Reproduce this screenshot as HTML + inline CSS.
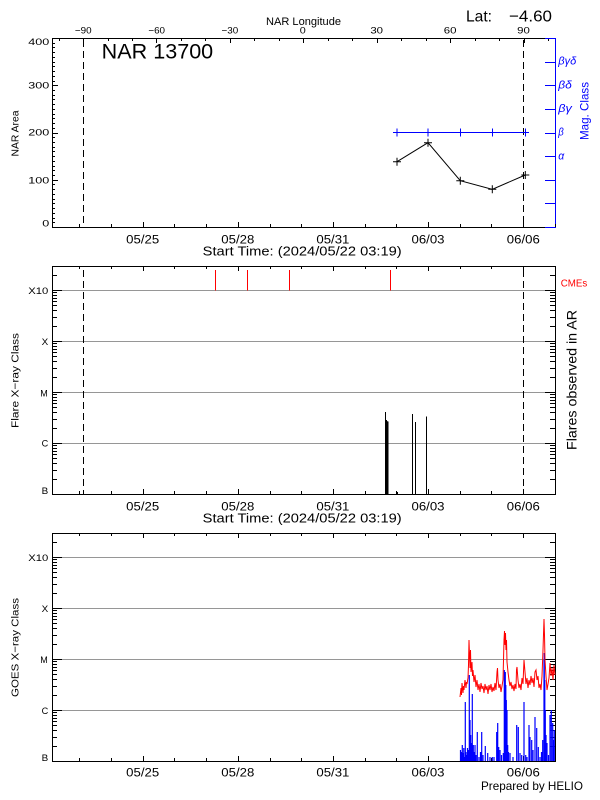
<!DOCTYPE html>
<html><head><meta charset="utf-8"><style>
html,body{margin:0;padding:0;background:#fff;}
svg{display:block;}
text{font-family:"Liberation Sans",sans-serif;fill:#000;}
text.blue{fill:#0000ff;}
text.red{fill:#ff0000;}
</style></head><body>
<svg id="s" width="600" height="800" viewBox="0 0 600 800" xmlns="http://www.w3.org/2000/svg">
<rect width="600" height="800" fill="#fff"/>

<!-- grid lines -->
<g stroke="#969696" stroke-width="1" shape-rendering="crispEdges">
<line x1="52" y1="290.5" x2="555" y2="290.5"/>
<line x1="52" y1="341.5" x2="555" y2="341.5"/>
<line x1="52" y1="392.5" x2="555" y2="392.5"/>
<line x1="52" y1="443.5" x2="555" y2="443.5"/>
<line x1="52" y1="557.5" x2="555" y2="557.5"/>
<line x1="52" y1="608.5" x2="555" y2="608.5"/>
<line x1="52" y1="659.5" x2="555" y2="659.5"/>
<line x1="52" y1="710.5" x2="555" y2="710.5"/>
</g>

<!-- frames -->
<g stroke="#000" stroke-width="1" fill="none" shape-rendering="crispEdges">
<line x1="52.5" y1="38.5" x2="555" y2="38.5"/>
<line x1="52.5" y1="38.5" x2="52.5" y2="227.5"/>
<line x1="52.5" y1="227.5" x2="555" y2="227.5"/>
<rect x="52.5" y="266.5" width="503" height="228"/>
<rect x="52.5" y="533.5" width="503" height="228"/>
</g>
<line x1="555.5" y1="38" x2="555.5" y2="228" stroke="#0000ff" stroke-width="1" shape-rendering="crispEdges"/>

<g id="ticks" stroke="#000" stroke-width="1" shape-rendering="crispEdges"></g>
<g id="bticks" stroke="#0000ff" stroke-width="1" shape-rendering="crispEdges"></g>

<!-- dashed lines -->
<g stroke="#000" stroke-width="1.2" stroke-dasharray="7,4" shape-rendering="crispEdges">
<line x1="83.5" y1="40" x2="83.5" y2="227"/>
<line x1="523.5" y1="40" x2="523.5" y2="227"/>
<line x1="83.5" y1="270" x2="83.5" y2="494"/>
<line x1="523.5" y1="270" x2="523.5" y2="494"/>
</g>

<!-- top panel data -->
<g stroke="#0000ff" stroke-width="1" fill="none" shape-rendering="crispEdges">
<line x1="393" y1="132.5" x2="529" y2="132.5"/>
<line x1="397" y1="128.5" x2="397" y2="136.5"/>
<line x1="428" y1="128.5" x2="428" y2="136.5"/>
<line x1="460.3" y1="128.5" x2="460.3" y2="136.5"/>
<line x1="492.3" y1="128.5" x2="492.3" y2="136.5"/>
<line x1="525.3" y1="128.5" x2="525.3" y2="136.5"/>
</g>
<g stroke="#000" stroke-width="1" fill="none">
<polyline points="397,161.7 428,142.7 460.3,180.7 492.3,189.3 525.3,175"/>
<path d="M393,161.7h8M397,157.7v8M424,142.7h8M428,138.7v8M456.3,180.7h8M460.3,176.7v8M488.3,189.3h8M492.3,185.3v8M521.3,175h8M525.3,171v8"/>
</g>

<!-- CMEs -->
<g stroke="#ff0000" stroke-width="1" shape-rendering="crispEdges">
<line x1="215.7" y1="270" x2="215.7" y2="290.5"/>
<line x1="247.3" y1="270" x2="247.3" y2="290.5"/>
<line x1="289.3" y1="270" x2="289.3" y2="290.5"/>
<line x1="390.3" y1="270" x2="390.3" y2="290.5"/>
</g>

<!-- flares -->
<g stroke="#000" stroke-width="1" shape-rendering="crispEdges">
<line x1="385.5" y1="494" x2="385.5" y2="412"/>
<line x1="386.3" y1="494" x2="386.3" y2="420"/>
<line x1="387" y1="494" x2="387" y2="421"/>
<line x1="387.8" y1="494" x2="387.8" y2="421.7"/>
<line x1="397.3" y1="494" x2="397.3" y2="492"/>
<line x1="412.3" y1="494" x2="412.3" y2="414"/>
<line x1="415.3" y1="494" x2="415.3" y2="422"/>
<line x1="426.3" y1="494" x2="426.3" y2="416.7"/>
<line x1="428.3" y1="494" x2="428.3" y2="489"/>
</g>

<!-- GOES blue -->
<path fill="none" stroke="#0000ff" stroke-width="1.2" d="
M460.5,761V750 M461.5,761V752 M462.3,761V745 M463,761V753 M463.8,761V748 M464.5,761V757 M465.3,761V702 M466,761V752 M466.8,761V755 M467.5,761V748 M468.3,761V750 M469.3,761V675 M470,761V720 M470.7,761V735 M471.3,761V743 M472.3,761V694 M473.3,761V745 M474.2,761V752 M475,761V745 M476,761V755 M477.3,761V732 M479,761V757 M480.5,761V752 M481.7,761V732 M483,761V755 M485.3,761V746 M487.7,761V753 M490,761V757 M492.3,761V757 M494,761V757 M496.7,761V732 M497.7,761V723 M498.7,761V747 M500,761V750 M501.5,761V755 M503.3,761V753 M504.3,761V670 M504.8,761V690 M505.3,761V672 M505.8,761V685 M506.3,761V700 M507,761V710 M507.7,761V745 M508.5,761V752 M510,761V753 M513,761V757 M516.7,761V725 M518.3,761V727 M520,761V753 M521.7,761V755 M524,761V702 M525.7,761V755 M527,761V757 M529,761V725 M530,761V737 M531.7,761V740 M533,761V750 M535,761V717 M536.7,761V728 M538.3,761V747 M540,761V757 M541.5,761V752 M542.7,761V740 M544,761V660 M544.3,761V653 M544.8,761V680 M545.3,761V710 M546,761V735 M547,761V743 M548.5,761V755 M550,761V715 M551.3,761V710 M552.7,761V723 M553.5,761V740 M554.3,761V730"/>

<!-- GOES red -->
<polyline fill="none" stroke="#ff0000" stroke-width="1" points="460,697 461,688 461.5,695 462,683 463,693 463.5,686 464,690 465,680 466,688 466.5,682 467,684 468,678 468.5,665 469,640 469.5,655 470,668 470.5,650 471,672 472,662 472.5,676 473,670 474,682 475,675 476,687 477,680 478,690 479,684 480,692 481,683 482,689 483,686 484,693 485,684 486,690 487,686 488,694 489,685 490,690 491,684 492,692 493,687 494,691 495,683 496,690 497,672 497.5,668 498,680 499,688 500,684 501,692 502,686 503,680 503.5,660 504,640 504.5,631 505,645 505.5,633 506,650 506.5,640 507,662 508,672 509,680 510,686 511,682 512,689 513,685 514,691 515,684 516,689 516.5,670 517,667 518,680 519,688 520,684 521,690 522,678 523,684 524,660 525,672 526,684 527,678 528,688 529,680 530,685 531,676 532,683 533,678 534,687 535,672 536,670 537,680 538,676 539,688 540,684 541,690 542,676 543,650 544,619 544.5,635 545,660 546,676 547,690 548,684 549,678 550,663 551,676 552,668 553,680 554,665 555,675"/>

<!-- Top texts -->
<text x="266" y="25" font-size="11" textLength="75" lengthAdjust="spacingAndGlyphs">NAR Longitude</text>
<text x="466" y="21.7" font-size="16" textLength="26" lengthAdjust="spacingAndGlyphs">Lat:</text>
<text x="509" y="21.7" font-size="16" textLength="43" lengthAdjust="spacingAndGlyphs">−4.60</text>
<g font-size="9.5" text-anchor="middle">
<text x="83.3" y="33.5" textLength="16.7" lengthAdjust="spacingAndGlyphs">−90</text>
<text x="156.7" y="33.5" textLength="16.7" lengthAdjust="spacingAndGlyphs">−60</text>
<text x="229.9" y="33.5" textLength="16.7" lengthAdjust="spacingAndGlyphs">−30</text>
<text x="302.8" y="33.5" textLength="6" lengthAdjust="spacingAndGlyphs">0</text>
<text x="376.7" y="33.5" textLength="12.7" lengthAdjust="spacingAndGlyphs">30</text>
<text x="450.1" y="33.5" textLength="12.7" lengthAdjust="spacingAndGlyphs">60</text>
<text x="523.5" y="33.5" textLength="12.7" lengthAdjust="spacingAndGlyphs">90</text>
</g>
<text x="101.7" y="58.3" font-size="21" textLength="111.5" lengthAdjust="spacingAndGlyphs">NAR 13700</text>

<!-- top panel y labels -->
<g font-size="9.5">
<text x="28.3" y="45" textLength="21" lengthAdjust="spacingAndGlyphs">400</text>
<text x="28.3" y="88.5" textLength="21" lengthAdjust="spacingAndGlyphs">300</text>
<text x="28.3" y="135.5" textLength="21" lengthAdjust="spacingAndGlyphs">200</text>
<text x="28.3" y="183.3" textLength="21" lengthAdjust="spacingAndGlyphs">100</text>
<text x="42.3" y="226.7" textLength="7" lengthAdjust="spacingAndGlyphs">0</text>
</g>
<g font-size="11" font-style="italic">
<text class="blue" x="558.3" y="64.6" textLength="18" lengthAdjust="spacingAndGlyphs">βγδ</text>
<text class="blue" x="558.3" y="88.3" textLength="13.5" lengthAdjust="spacingAndGlyphs">βδ</text>
<text class="blue" x="558.3" y="111.9" textLength="13.5" lengthAdjust="spacingAndGlyphs">βγ</text>
<text class="blue" x="558.3" y="135.5" textLength="5.5" lengthAdjust="spacingAndGlyphs">β</text>
<text class="blue" x="558.3" y="159.5" textLength="6" lengthAdjust="spacingAndGlyphs">α</text>
</g>
<text class="blue" transform="translate(588.5,111) rotate(-90)" text-anchor="middle" font-size="12" textLength="58" lengthAdjust="spacingAndGlyphs">Mag. Class</text>
<text transform="translate(18.5,133.5) rotate(-90)" text-anchor="middle" font-size="10" textLength="46" lengthAdjust="spacingAndGlyphs">NAR Area</text>

<!-- date labels -->
<g font-size="11.5" text-anchor="middle">
<text x="142.7" y="243.3" textLength="33" lengthAdjust="spacingAndGlyphs">05/25</text>
<text x="237.8" y="243.3" textLength="33" lengthAdjust="spacingAndGlyphs">05/28</text>
<text x="332.9" y="243.3" textLength="33" lengthAdjust="spacingAndGlyphs">05/31</text>
<text x="428" y="243.3" textLength="33" lengthAdjust="spacingAndGlyphs">06/03</text>
<text x="523.3" y="243.3" textLength="33" lengthAdjust="spacingAndGlyphs">06/06</text>
<text x="142.7" y="510.3" textLength="33" lengthAdjust="spacingAndGlyphs">05/25</text>
<text x="237.8" y="510.3" textLength="33" lengthAdjust="spacingAndGlyphs">05/28</text>
<text x="332.9" y="510.3" textLength="33" lengthAdjust="spacingAndGlyphs">05/31</text>
<text x="428" y="510.3" textLength="33" lengthAdjust="spacingAndGlyphs">06/03</text>
<text x="523.3" y="510.3" textLength="33" lengthAdjust="spacingAndGlyphs">06/06</text>
<text x="142.7" y="776.7" textLength="33" lengthAdjust="spacingAndGlyphs">05/25</text>
<text x="237.8" y="776.7" textLength="33" lengthAdjust="spacingAndGlyphs">05/28</text>
<text x="332.9" y="776.7" textLength="33" lengthAdjust="spacingAndGlyphs">05/31</text>
<text x="428" y="776.7" textLength="33" lengthAdjust="spacingAndGlyphs">06/03</text>
<text x="523.3" y="776.7" textLength="33" lengthAdjust="spacingAndGlyphs">06/06</text>
</g>
<text x="202.7" y="255.7" font-size="12.5" textLength="199" lengthAdjust="spacingAndGlyphs">Start Time: (2024/05/22 03:19)</text>
<text x="202.7" y="522.7" font-size="12.5" textLength="199" lengthAdjust="spacingAndGlyphs">Start Time: (2024/05/22 03:19)</text>

<!-- log labels -->
<g font-size="9">
<text x="28.3" y="294" textLength="20" lengthAdjust="spacingAndGlyphs">X10</text>
<text x="41.7" y="345" textLength="6.6" lengthAdjust="spacingAndGlyphs">X</text>
<text x="40.3" y="396.7" textLength="7.5" lengthAdjust="spacingAndGlyphs">M</text>
<text x="41.7" y="446.7" textLength="6.6" lengthAdjust="spacingAndGlyphs">C</text>
<text x="41.7" y="494" textLength="6.6" lengthAdjust="spacingAndGlyphs">B</text>
<text x="28.3" y="561" textLength="20" lengthAdjust="spacingAndGlyphs">X10</text>
<text x="41.7" y="612" textLength="6.6" lengthAdjust="spacingAndGlyphs">X</text>
<text x="40.3" y="663" textLength="7.5" lengthAdjust="spacingAndGlyphs">M</text>
<text x="41.7" y="714" textLength="6.6" lengthAdjust="spacingAndGlyphs">C</text>
<text x="41.7" y="761" textLength="6.6" lengthAdjust="spacingAndGlyphs">B</text>
</g>
<text transform="translate(18.5,380.5) rotate(-90)" text-anchor="middle" font-size="10.5" textLength="95" lengthAdjust="spacingAndGlyphs">Flare X−ray Class</text>
<text transform="translate(18.5,647.5) rotate(-90)" text-anchor="middle" font-size="10.5" textLength="99" lengthAdjust="spacingAndGlyphs">GOES X−ray Class</text>
<text transform="translate(576.7,380) rotate(-90)" text-anchor="middle" font-size="14" textLength="140" lengthAdjust="spacingAndGlyphs">Flares observed in AR</text>
<text class="red" x="560.7" y="286.7" font-size="10.5" textLength="26.5" lengthAdjust="spacingAndGlyphs">CMEs</text>
<text x="481" y="790" font-size="12" textLength="102" lengthAdjust="spacingAndGlyphs">Prepared by HELIO</text>
</svg>
<script>
(function(){
var NS="http://www.w3.org/2000/svg";
var g=document.getElementById('ticks');
var gb=document.getElementById('bticks');
function ln(p,x1,y1,x2,y2){var e=document.createElementNS(NS,'line');
e.setAttribute('x1',x1);e.setAttribute('y1',y1);e.setAttribute('x2',x2);e.setAttribute('y2',y2);p.appendChild(e);}
function dx(d){return 142.7+31.7*d;}
var panels=[[38,227,false],[266,494,true],[533,761,true]];
panels.forEach(function(p){
  var t=p[0],b=p[1];
  for(var d=-2; d<=13; d++){
    var x=Math.round(dx(d))+0.5; var L=(d%3===0)?5:3;
    ln(g,x,b,x,b-L);
    if(p[2]) ln(g,x,t,x,t+L);
  }
});
for(var lon=-100; lon<=100; lon+=10){
  var x=Math.round(303.3+lon*2.447)+0.5; var L=(lon%30===0)?5:3;
  ln(g,x,38,x,38+L);
}
for(var v=0; v<=400; v+=10){
  var y=Math.round(227-v*0.4725)+0.5; var L=(v%100===0)?6:3;
  ln(g,52,y,52+L,y);
}
for(var k=0;k<=8;k++){
  var y=Math.round(38+23.625*k)+0.5;
  ln(gb,555,y,545,y);
}
[[266,494],[533,761]].forEach(function(p){
  var t=p[0],b=p[1];
  for(var i=0;i<=4;i++){
    var base=b-51*i;
    if(i>0){var yb=Math.round(base)+0.5; ln(g,52,yb,62,yb); ln(g,555,yb,545,yb);}
    for(var m=2;m<=9;m++){
      var y=base-51*Math.log10(m);
      if(y>=t){var yy=Math.round(y)+0.5; ln(g,52,yy,57,yy); ln(g,555,yy,550,yy);}
    }
  }
});
})();
</script>
</body></html>
